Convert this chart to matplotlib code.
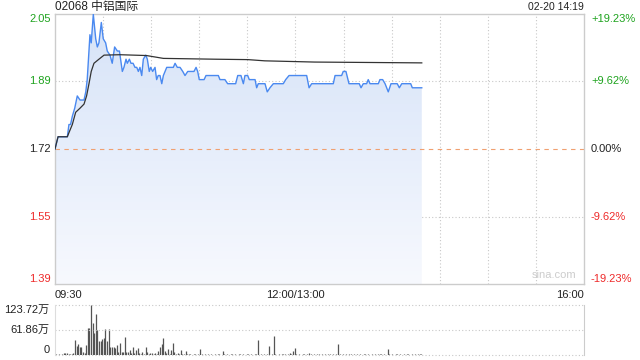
import matplotlib
matplotlib.use("Agg")
import matplotlib.pyplot as plt
import numpy as np

plt.rcParams["font.family"] = ["Liberation Sans", "Noto Sans CJK SC", "DejaVu Sans"]

# intraday price, minutes since 09:30 (lunch break removed, 330 min session)
prev_close = 1.72
price_min = [0, 1.9, 7.7, 8.7, 9.7, 10.8, 12.3, 13.9, 15.6, 18.1, 19.2, 20.1, 21.8, 22.6,
             23.9, 25.4, 26.4, 27.4, 28.9, 30.1, 31.6, 32.6, 34.3, 35.7, 37.2, 38.9, 40.2,
             42, 43, 44.3, 45.1, 46.4, 47.4, 48.7, 49.9, 51, 52, 53, 54.1, 55.1, 56.6, 57.6,
             58.8, 59.7, 60.9, 62.4, 63.4, 64.4, 65.5, 66.6, 67.6, 69.7, 71.7, 73.8, 74.9,
             76.3, 78, 79.7, 81.1, 82.8, 86.7, 88, 89, 90, 93, 94.2, 101.9, 102.9, 106,
             107.7, 112.7, 114, 116, 117.5, 118.5, 120.2, 121.2, 124.8, 125.8, 126.8, 131,
             132.4, 134.1, 136.2, 142.4, 143.9, 146, 157, 158.5, 160.1, 173.6, 174.7, 178.8,
             179.8, 181.5, 183.4, 189.8, 190.9, 192.3, 194.4, 195.4, 196.5, 201.7, 202.7,
             204.4, 205.9, 207.9, 209.6, 213.5, 214.8, 216.3, 221.9, 222.9, 228.8]
price_val = [1.72, 1.75, 1.75, 1.78, 1.78, 1.80, 1.82, 1.85, 1.84, 1.84, 1.86, 1.89, 2.00, 1.98,
             2.05, 1.99, 1.97, 1.98, 2.03, 1.99, 1.98, 1.96, 1.95, 1.93, 1.97, 1.96, 1.96,
             1.91, 1.92, 1.94, 1.93, 1.94, 1.93, 1.93, 1.92, 1.92, 1.91, 1.92, 1.90, 1.94, 1.95, 1.94,
             1.91, 1.92, 1.91, 1.92, 1.89, 1.90, 1.90, 1.88, 1.90, 1.92, 1.92, 1.92, 1.93,
             1.92, 1.92, 1.91, 1.90, 1.91, 1.91, 1.92, 1.91, 1.89, 1.89, 1.90, 1.90, 1.89, 1.89,
             1.88, 1.88, 1.90, 1.90, 1.88, 1.90, 1.90, 1.89, 1.89, 1.87, 1.88, 1.88,
             1.86, 1.87, 1.88, 1.88, 1.89, 1.90, 1.90, 1.87, 1.88, 1.88, 1.90, 1.90,
             1.91, 1.91, 1.88, 1.88, 1.87, 1.88, 1.88, 1.89, 1.88, 1.88, 1.89,
             1.89, 1.88, 1.86, 1.88, 1.88, 1.87, 1.88, 1.88, 1.87, 1.87]

avg_min = [0, 1.9, 7.7, 8.7, 10.8, 12.9, 15.6, 18.1, 19.7, 21.2, 22.6, 24.3, 27.4, 30.6,
           40.5, 57, 67.6, 100, 120.3, 130.9, 162, 228.8]
avg_val = [1.72, 1.75, 1.75, 1.76, 1.78, 1.81, 1.82, 1.83, 1.85, 1.88, 1.91, 1.93, 1.94, 1.95,
           1.951, 1.949, 1.942, 1.940, 1.939, 1.936, 1.933, 1.931]

# volume per minute (万股), minute 0..228
volume = [2, 1, 2, 1, 3, 5, 4, 5, 2, 3,
          2, 6, 37, 23, 26, 21, 19, 7, 5, 25,
          66, 66, 124, 78, 55, 101, 62, 35, 35, 39,
          41, 64, 35, 64, 21, 19, 19, 17, 25, 8,
          30, 8, 7, 45, 7, 7, 12, 5, 19, 4,
          12, 17, 4, 3, 7, 3, 19, 7, 3, 4,
          6, 3, 4, 3, 10, 19, 26, 41, 10, 4,
          16, 3, 12, 30, 8, 3, 4, 3, 12, 3,
          3, 10, 2, 3, 2, 1, 3, 2, 1, 2,
          15, 2, 1, 2, 1, 3, 1, 2, 1, 2,
          1, 2, 3, 1, 9, 2, 1, 2, 1, 3,
          2, 1, 2, 1, 2, 3, 1, 2, 1, 2,
          3, 1, 2, 1, 2, 2, 37, 1, 2, 1,
          2, 1, 3, 22, 1, 2, 47, 2, 1, 2,
          1, 2, 3, 2, 1, 3, 6, 2, 10, 17,
          2, 1, 2, 1, 2, 3, 1, 2, 6, 2,
          1, 2, 1, 3, 2, 1, 2, 1, 2, 1,
          2, 3, 1, 2, 1, 2, 27, 2, 1, 2,
          1, 2, 1, 3, 2, 1, 2, 1, 2, 1,
          2, 1, 2, 3, 1, 2, 1, 2, 1, 2,
          1, 2, 3, 2, 1, 2, 1, 15, 2, 1,
          2, 1, 2, 3, 1, 2, 1, 2, 1, 2,
          3, 1, 2, 1, 2, 1, 2, 3, 2]
vol_max = 123.72

session_len = 330
pct_max = 19.23
pct_mid = 9.62

GREEN = "#1ea31e"
RED = "#ee2a2a"
DARK = "#222222"
GRID = "#c8c8c8"

fig = plt.figure(figsize=(6.4, 3.6), dpi=100)
ax = fig.add_axes([55 / 640, 76 / 360, 529 / 640, 270 / 360])
axv = fig.add_axes([55 / 640, 5 / 360, 529 / 640, 50 / 360])

lo = prev_close * (1 - pct_max / 100)
hi = prev_close * (1 + pct_max / 100)
ax.set_xlim(0, session_len)
ax.set_ylim(lo, hi)

# gradient fill under the price line
grad = np.linspace(0, 1, 256).reshape(-1, 1)
cmap = matplotlib.colors.LinearSegmentedColormap.from_list("f", ["#f7f9fe", "#d6e3f8"])
img = ax.imshow(grad, cmap=cmap, aspect="auto", origin="lower",
                extent=[0, price_min[-1], lo, max(price_val)], zorder=1)
poly = ax.fill_between(price_min, price_val, lo, color="none", lw=0)
img.set_clip_path(poly.get_paths()[0], transform=ax.transData)

ax.plot(price_min, price_val, color="#4a89f0", lw=1.0, zorder=3)
ax.plot(avg_min, avg_val, color="#333333", lw=0.9, zorder=4)
ax.axhline(prev_close, color="#f0a070", lw=0.8, ls=(0, (4, 4)), zorder=2)

levels = [prev_close * (1 + p / 100) for p in (-pct_max, -pct_mid, 0, pct_mid, pct_max)]
for y in (levels[1], levels[3]):
    ax.axhline(y, color=GRID, lw=0.8, ls=(0, (1, 2)), zorder=0)
for x in range(30, session_len, 30):
    ax.axvline(x, color=GRID, lw=0.8, ls=(0, (1, 2)), zorder=0)

for s in ax.spines.values():
    s.set_color("#cccccc")
    s.set_linewidth(1)

colors = [RED, RED, DARK, GREEN, GREEN]
vas = ["bottom", "center", "center", "center", "top"]
ax.set_yticks(levels)
for t, c, va in zip(ax.set_yticklabels([f"{v:.2f}" for v in levels], fontsize=8), colors, vas):
    t.set_color(c)
    t.set_va(va)
ax.tick_params(axis="y", length=0, pad=3)

axr = ax.twinx()
axr.set_ylim(lo, hi)
axr.set_yticks(levels)
pct_labels = ["-19.23%", "-9.62%", "0.00%", "+9.62%", "+19.23%"]
for t, c, va in zip(axr.set_yticklabels(pct_labels, fontsize=8), colors, vas):
    t.set_color(c)
    t.set_va(va)
axr.tick_params(axis="y", length=0, pad=5)
for s in axr.spines.values():
    s.set_visible(False)

ax.set_xticks([0, 150, session_len])
xl = ax.set_xticklabels(["09:30", "12:00/13:00", "16:00"], fontsize=8, color=DARK)
for t, ha in zip(xl, ["left", "center", "right"]):
    t.set_ha(ha)
ax.tick_params(axis="x", length=0, pad=4)

ax.text(0, 1 + 7 / 270, "02068 中铝国际", transform=ax.transAxes, fontsize=8.5,
        color=DARK, ha="left", va="center")
ax.text(1, 1 + 7 / 270, "02-20 14:19", transform=ax.transAxes, fontsize=7.5,
        color=DARK, ha="right", va="center")
ax.text(0.985, 0.015, "sina.com", transform=ax.transAxes, fontsize=8,
        color="#cccccc", ha="right", va="bottom")

# volume panel
axv.set_xlim(0, session_len)
axv.set_ylim(0, vol_max)
axv.vlines(np.arange(len(volume)) + 0.5, 0, volume, color="#555555", lw=0.9)
for y in (0, vol_max / 2, vol_max):
    axv.axhline(y, color=GRID, lw=0.8, ls=(0, (1, 2)), clip_on=False)
axv.set_xticks([])
axv.set_yticks([0, vol_max / 2, vol_max])
for t, va in zip(axv.set_yticklabels(["0", "61.86万", "123.72万"], fontsize=8, color=DARK),
                 ["bottom", "center", "top"]):
    t.set_va(va)
axv.tick_params(axis="y", length=0, pad=4)
axv.spines["top"].set_visible(False)
axv.spines["bottom"].set_visible(False)
axv.spines["left"].set_color("#dddddd")
axv.spines["right"].set_color("#cccccc")

fig.savefig("out.png", dpi=100)
